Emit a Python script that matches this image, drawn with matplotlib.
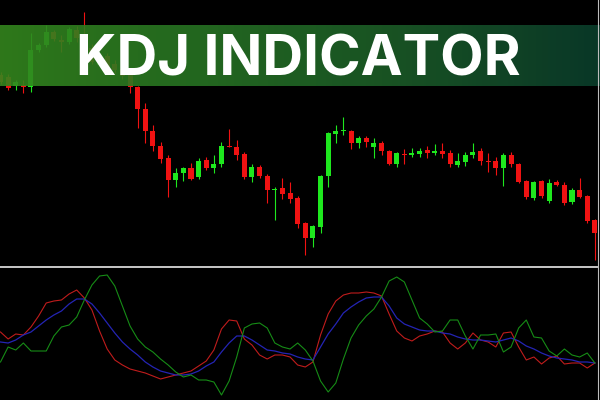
import numpy as np
import matplotlib
matplotlib.use('Agg')
import matplotlib.pyplot as plt
from matplotlib.colors import LinearSegmentedColormap
from matplotlib.lines import Line2D

# candle data (one bar per period)
opens = [225, 223, 214, 215, 213, 250, 255, 268, 260, 258,
         270, 264, 252, 235, 244, 236, 231, 225, 213, 191,
         169, 154, 142, 120, 127, 132, 123, 140, 132, 136,
         154, 153, 146, 123, 133, 124, 110, 112, 107, 102,
         77, 62, 73, 124, 166, 169, 169, 157, 162, 153,
         157, 149, 136, 146, 145, 146, 150, 147, 149, 147,
         135, 138, 145, 149, 139, 139, 132, 145, 136, 119,
         102, 119, 99, 118, 115, 98, 110, 104, 80]
highs = [228, 226, 220, 220, 267, 257, 275, 270, 265, 273,
         274, 288, 256, 246, 247, 240, 234, 230, 214, 197,
         175, 158, 145, 132, 133, 137, 142, 143, 145, 158,
         171, 160, 148, 136, 135, 126, 113, 122, 118, 104,
         78, 75, 125, 168, 175, 183, 170, 164, 164, 162,
         159, 150, 148, 151, 152, 152, 154, 156, 157, 150,
         147, 148, 157, 152, 147, 143, 147, 148, 137, 120,
         119, 120, 121, 120, 118, 112, 122, 105, 81]
lows = [216, 210, 210, 207, 208, 248, 253, 259, 248, 256,
        258, 246, 236, 233, 231, 227, 221, 207, 172, 157,
        149, 137, 103, 113, 119, 120, 121, 130, 127, 133,
        153, 140, 121, 118, 122, 97, 80, 101, 97, 72,
        45, 53, 67, 113, 157, 165, 151, 152, 153, 142,
        145, 135, 133, 136, 143, 143, 142, 145, 142, 133,
        133, 134, 142, 135, 128, 125, 114, 133, 117, 101,
        100, 102, 97, 114, 95, 96, 102, 77, 40]
closes = [218, 212, 218, 213, 250, 255, 268, 261, 258, 271,
          262, 250, 238, 243, 233, 230, 224, 213, 191, 169,
          154, 141, 120, 127, 132, 121, 139, 132, 136, 154,
          153, 145, 123, 133, 124, 110, 111, 106, 101, 76,
          62, 74, 124, 167, 169, 170, 157, 162, 158, 157,
          149, 136, 147, 145, 147, 149, 147, 149, 146, 136,
          139, 145, 148, 139, 138, 132, 145, 136, 118, 103,
          118, 104, 117, 115, 97, 110, 103, 79, 67]

# KDJ lines in the lower window
k_line = [68, 61, 66, 65, 73, 84, 97, 99, 100, 106,
          110, 102, 90, 69, 51, 40, 35, 31, 29, 27,
          24, 21, 23, 25, 27, 29, 34, 39, 50, 71,
          80, 79, 61, 55, 45, 41, 45, 45, 43, 35,
          33, 38, 65, 86, 99, 105, 107, 107, 108, 107,
          104, 86, 69, 62, 59, 64, 66, 69, 68, 57,
          51, 57, 67, 60, 58, 53, 67, 68, 53, 40,
          43, 36, 42, 44, 36, 37, 37, 32, 37]
d_line = [58, 57, 60, 65, 68, 74, 80, 85, 89, 96,
          101, 101, 96, 87, 77, 67, 58, 51, 45, 38,
          33, 29, 27, 25, 25, 26, 29, 34, 38, 48,
          57, 64, 64, 60, 55, 50, 49, 47, 46, 43,
          41, 40, 53, 66, 76, 87, 93, 98, 102, 103,
          103, 94, 82, 76, 73, 70, 69, 69, 67, 66,
          63, 61, 60, 60, 59, 58, 60, 62, 59, 54,
          51, 47, 44, 42, 41, 40, 38, 38, 37]
j_line = [38, 53, 50, 57, 49, 49, 49, 64, 73, 75,
          83, 100, 115, 124, 125, 114, 94, 74, 61, 53,
          48, 41, 35, 28, 23, 25, 20, 20, 18, 5,
          19, 43, 72, 76, 77, 72, 57, 53, 51, 57,
          50, 39, 19, 8, 17, 41, 62, 75, 84, 91,
          103, 119, 123, 118, 100, 82, 76, 68, 69, 80,
          80, 64, 51, 65, 65, 66, 48, 53, 72, 80,
          63, 62, 49, 44, 51, 45, 43, 47, 37]

title = 'KDJ INDICATOR'

up_col = '#1ee81e'
down_col = '#f01212'

fig = plt.figure(figsize=(6, 4), dpi=100, facecolor='black')

x = np.arange(len(opens))
o = np.array(opens)
c = np.array(closes)
cols = [up_col if c[i] > o[i] else down_col for i in range(len(o))]

# main price window
ax1 = fig.add_axes([0, 135 / 400, 597 / 600, 265 / 400])
ax1.set_facecolor('black')
ax1.vlines(x, lows, highs, colors=cols, linewidth=0.8)
body = np.maximum(np.abs(c - o), 0.8)
ax1.bar(x, body, bottom=np.minimum(o, c), width=0.66, color=cols, linewidth=0)
ax1.set_xlim(-0.066, 78.28)
ax1.set_ylim(35, 300)
ax1.axis('off')

# indicator window
ax2 = fig.add_axes([0, 0, 597 / 600, 131 / 400])
ax2.set_facecolor('black')
ax2.plot(x, k_line, color='#c01c1c', linewidth=0.8)
ax2.plot(x, d_line, color='#2424b4', linewidth=0.9)
ax2.plot(x, j_line, color='#168c16', linewidth=0.8)
ax2.set_xlim(-0.066, 78.28)
ax2.set_ylim(0, 131)
ax2.axis('off')

# window borders
fig.add_artist(Line2D([0, 597 / 600], [133 / 400, 133 / 400], color='#c8c8c8', linewidth=1.4))
fig.add_artist(Line2D([597.5 / 600, 597.5 / 600], [0, 1], color='#bdbdbd', linewidth=0.8))

# banner
axb = fig.add_axes([0, (400 - 86) / 400, 1, 61 / 400])
cmap = LinearSegmentedColormap.from_list('ban', ['#34861e', '#277323', '#1b5b28', '#0b3e2c'])
grad = np.linspace(0, 1, 300).reshape(1, -1)
axb.imshow(grad, cmap=cmap, aspect='auto', extent=[0, 1, 0, 1], alpha=0.9)
axb.set_xlim(0, 1)
axb.set_ylim(0, 1)
axb.axis('off')
txt = axb.text(298 / 600, 11 / 61, title, color='white', fontsize=40, fontweight='bold',
               family='Inter', ha='center', va='baseline')

# fit title width to the banner text span
fig.canvas.draw()
w = txt.get_window_extent().width
txt.set_fontsize(40 * 444 / w)

fig.savefig('out.png', dpi=100, facecolor='black')
